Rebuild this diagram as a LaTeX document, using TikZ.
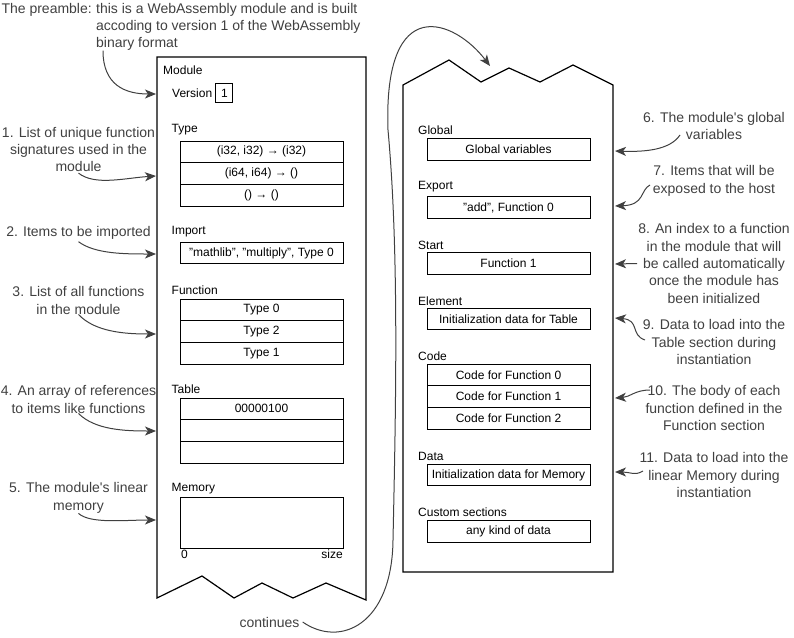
\documentclass[tikz,border=0pt]{standalone}
\usepackage{fontspec}
\setmainfont{Liberation Sans}
\usetikzlibrary{arrows.meta,positioning}
\definecolor{notegray}{HTML}{404040}

\begin{document}
\begin{tikzpicture}[x=1pt,y=-1pt,
    cell/.style={draw, line width=1pt, minimum width=163pt, minimum height=21.7pt,
      inner sep=0pt, outer sep=0pt, font=\fontsize{12}{14}\selectfont},
    sect/.style={anchor=west, inner sep=0pt, font=\fontsize{12}{14}\selectfont},
    note/.style={align=center, inner sep=0pt, text=notegray,
      font=\fontsize{14}{17.3}\selectfont},
    pointer/.style={-{Stealth[length=11pt,width=9pt,inset=3pt]}, line width=1pt, draw=notegray}]
\useasboundingbox (0,0) rectangle (794,637);

% module, first part
\draw[line width=1.2pt] (157,598) -- (157,57) -- (366,57) -- (366,600) -- (326,583)
  -- (293,598) -- (262,583) -- (234,598) -- (202,576) -- cycle;
\node[sect] (modlbl) at (163,70) {Module};
\node[sect] (ver) at (172,93) {Version};
\node[draw, line width=1pt, minimum width=17pt, minimum height=19pt, inner sep=0pt,
  right=3pt of ver, font=\fontsize{12}{14}\selectfont] (vernum) {1};

\node[sect] (typelbl) at (171.5,130) {Type};
\node[cell] (type1) at (261.5,151.85) {(i32, i32) → (i32)};
\node[cell, below=0pt of type1] (type2) {(i64, i64) → ()};
\node[cell, below=0pt of type2] (type3) {() → ()};

\node[sect] (implbl) at (171.5,232) {Import};
\node[cell] (imp) at (261.5,253) {"mathlib", "multiply", Type 0};

\node[sect] (funclbl) at (171.5,290) {Function};
\node[cell] (func1) at (261.5,309.85) {Type 0};
\node[cell, below=0pt of func1] (func2) {Type 2};
\node[cell, below=0pt of func2] (func3) {Type 1};

\node[sect] (tablbl) at (171.5,389) {Table};
\node[cell] (tab1) at (261.5,408.85) {00000100};
\node[cell, below=0pt of tab1] (tab2) {};
\node[cell, below=0pt of tab2] (tab3) {};

\node[sect] (memlbl) at (171.5,489) {Memory};
\node[cell, minimum height=51pt] (mem) at (261.5,522.5) {};
\node[sect, anchor=north west, below right=2pt and 1pt of mem.south west] (mem0) {0};
\node[sect, anchor=north east, below left=2pt and 0pt of mem.south east] (memsize) {size};

% module, second part
\draw[line width=1.2pt] (403,572) -- (403,85) -- (449,60) -- (481,82) -- (509,68)
  -- (540,82) -- (573,65) -- (613,85) -- (613,572) -- cycle;

\node[sect] (globlbl) at (418,130) {Global};
\node[cell] (glob) at (508.5,149.5) {Global variables};

\node[sect] (explbl) at (418,187) {Export};
\node[cell] (exp) at (508.5,207.5) {"add", Function 0};

\node[sect] (startlbl) at (418,245) {Start};
\node[cell] (start) at (508.5,263.5) {Function 1};

\node[sect] (elemlbl) at (418,301) {Element};
\node[cell] (elem) at (508.5,319) {Initialization data for Table};

\node[sect] (codelbl) at (418,356) {Code};
\node[cell] (code1) at (508.5,374.85) {Code for Function 0};
\node[cell, below=0pt of code1] (code2) {Code for Function 1};
\node[cell, below=0pt of code2] (code3) {Code for Function 2};

\node[sect] (datalbl) at (418,456) {Data};
\node[cell] (data) at (508.5,475) {Initialization data for Memory};

\node[sect] (custlbl) at (418,512) {Custom sections};
\node[cell] (cust) at (508.5,531.5) {any kind of data};

% notes
\node[note, anchor=east] (prelbl) at (92,10) {The preamble:};
\node[note, align=left, anchor=west] (pretxt) at (96,26.7)
  {this is a WebAssembly module and is built\\accoding to version 1 of the WebAssembly\\binary format};
\node[note] (n1) at (78.5,149.5) {1. List of unique function\\signatures used in the\\module};
\node[note] (n2) at (78.5,233) {2. Items to be imported};
\node[note] (n3) at (78.5,300.5) {3. List of all functions\\in the module};
\node[note] (n4) at (78.5,399.5) {4. An array of references\\to items like functions};
\node[note] (n5) at (78.5,498) {5. The module\textquotesingle s linear\\memory};
\node[note] (n6) at (714,126) {6. The module\textquotesingle s global\\variables};
\node[note] (n7) at (714,181) {7. Items that will be\\exposed to the host};
\node[note] (n8) at (714,263.5) {8. An index to a function\\in the module that will\\be called automatically\\once the module has\\been initialized};
\node[note] (n9) at (714,342) {9. Data to load into the\\Table section during\\instantiation};
\node[note] (n10) at (714,408) {10. The body of each\\function defined in the\\Function section};
\node[note] (n11) at (714,475) {11. Data to load into the\\linear Memory during\\instantiation};
\node[note] (cont) at (269.5,622) {continues};

% arrow ends on the outlines
\coordinate (p0) at (156,94);
\coordinate (p1) at (156,176);
\coordinate (p2) at (156,254);
\coordinate (p3) at (156,334);
\coordinate (p4) at (156,431);
\coordinate (p5) at (156,520);
\coordinate (p6) at (615,151);
\coordinate (p7) at (615,206);
\coordinate (p8) at (615,264);
\coordinate (p9) at (615,318);
\coordinate (p10) at (615,398);
\coordinate (p11) at (615,472);
\coordinate (ptop) at (490,66);

\draw[pointer] ([xshift=7pt]pretxt.south west) .. controls (103,85) and (125,94) .. (p0);
\draw[pointer] ([yshift=-1pt]n1.south) .. controls (95,186) and (125,178) .. (p1);
\draw[pointer] ([yshift=-2pt]n2.south) .. controls (95,254) and (125,254) .. (p2);
\draw[pointer] (n3.south) .. controls (95,332) and (125,334) .. (p3);
\draw[pointer] (n4.south) .. controls (95,430) and (125,431) .. (p4);
\draw[pointer] (n5.south) .. controls (90,524) and (125,520) .. (p5);
\draw[pointer] (680,135) .. controls (670,150) and (645,152) .. (p6);
\draw[pointer] (650,185) .. controls (640,190) and (645,205) .. (p7);
\draw[pointer] ([xshift=-1pt]n8.west) -- (p8);
\draw[pointer] (645,340) .. controls (630,335) and (640,320) .. (p9);
\draw[pointer] (650,390) .. controls (635,390) and (630,397) .. (p10);
\draw[pointer] (643,471) .. controls (635,476) and (630,472) .. (p11);
\draw[pointer] ([xshift=3pt]cont.east) .. controls (340,648) and (392,625) .. (393,540)
  .. controls (396,400) and (399,250) .. (388,130)
  .. controls (383,-10) and (455,20) .. (ptop);
\end{tikzpicture}
\end{document}
